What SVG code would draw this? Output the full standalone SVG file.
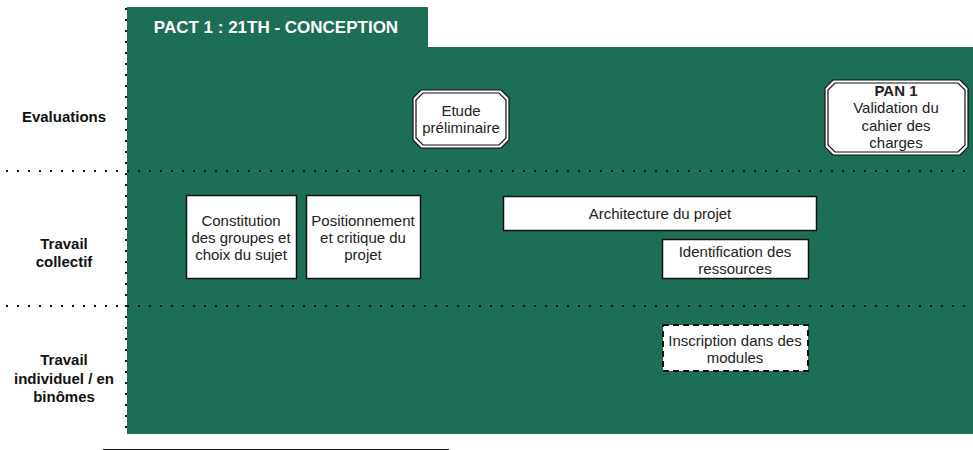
<svg xmlns="http://www.w3.org/2000/svg" width="973" height="450" viewBox="0 0 973 450">
<style>
text{font-family:"Liberation Sans",Arial,sans-serif;font-size:15px;fill:#222;text-anchor:middle}
.lbl{font-weight:bold;fill:#111}
.box{fill:#fff;stroke:#111;stroke-width:1.5}
.dash{fill:#fff;stroke:#111;stroke-width:2;stroke-dasharray:6 4}
.sep{stroke:#111;stroke-width:2;stroke-dasharray:2 9;fill:none}
.oct{fill:#fff;stroke:#111;stroke-width:1.2}
</style>
<g id="background">
<rect x="127" y="7" width="301" height="41" fill="#1c6e57"/>
<rect x="127" y="47" width="846" height="387" fill="#1c6e57"/>
<text x="276" y="33" style="fill:#fff;font-weight:bold;font-size:17px">PACT 1 : 21TH - CONCEPTION</text>
</g>
<g id="lanes">
<line class="sep" x1="126" y1="8" x2="126" y2="436"/>
<line class="sep" x1="6" y1="171" x2="973" y2="171"/>
<line class="sep" x1="6" y1="306" x2="973" y2="306"/>
<text class="lbl" x="64" y="122">Evaluations</text>
<text class="lbl" x="64" y="249">Travail</text>
<text class="lbl" x="64" y="267">collectif</text>
<text class="lbl" x="64" y="365">Travail</text>
<text class="lbl" x="64" y="384">individuel / en</text>
<text class="lbl" x="64" y="402">binômes</text>
</g>
<g id="etude">
<polygon class="oct" points="421,90 501,90 509,98 509,140 501,148 421,148 413,140 413,98"/>
<polygon class="oct" points="423,93 499,93 506,100 506,138 499,145 423,145 416,138 416,100"/>
<text x="461" y="116">Etude</text>
<text x="461" y="133">préliminaire</text>
</g>
<g id="pan1">
<polygon class="oct" points="833,80 960,80 968,88 968,147 960,155 833,155 825,147 825,88"/>
<polygon class="oct" points="835,83 958,83 965,90 965,145 958,152 835,152 828,145 828,90"/>
<text x="896" y="96" style="font-weight:bold">PAN 1</text>
<text x="896" y="113">Validation du</text>
<text x="896" y="131">cahier des</text>
<text x="896" y="148">charges</text>
</g>
<g id="constitution">
<rect class="box" x="186.5" y="195.5" width="110" height="83"/>
<text x="241" y="226">Constitution</text>
<text x="241" y="243">des groupes et</text>
<text x="241" y="260">choix du sujet</text>
</g>
<g id="positionnement">
<rect class="box" x="306.5" y="195.5" width="114" height="83"/>
<text x="363" y="226">Positionnement</text>
<text x="363" y="243">et critique du</text>
<text x="363" y="260">projet</text>
</g>
<g id="architecture">
<rect class="box" x="503.5" y="196.5" width="313" height="34"/>
<text x="660" y="219">Architecture du projet</text>
</g>
<g id="identification">
<rect class="box" x="662.5" y="239.5" width="146" height="39"/>
<text x="735" y="257">Identification des</text>
<text x="735" y="274">ressources</text>
</g>
<g id="inscription">
<rect class="dash" x="663" y="325" width="145" height="46"/>
<text x="735" y="346">Inscription dans des</text>
<text x="735" y="363">modules</text>
</g>
<g id="connectors"></g>
<g id="footer">
<rect x="103.5" y="449.5" width="345" height="20" fill="none" stroke="#111" stroke-width="1"/>
</g>
</svg>
